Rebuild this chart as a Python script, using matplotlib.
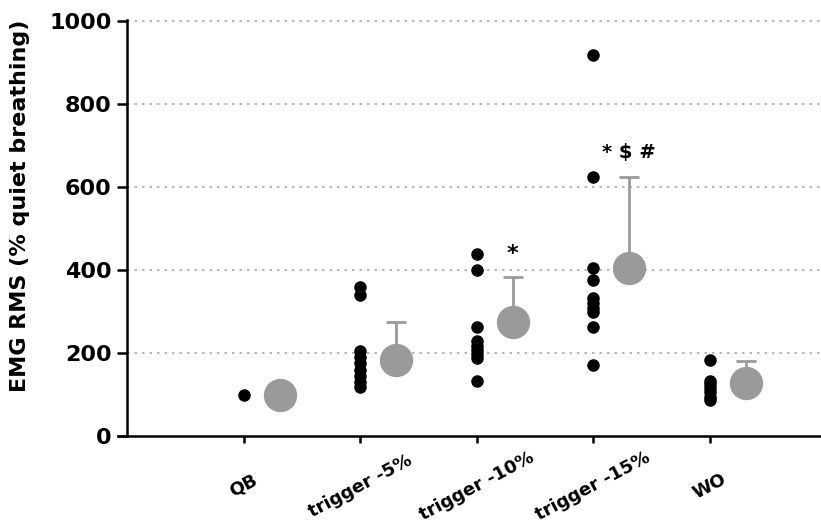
import numpy as np
import matplotlib
matplotlib.use('Agg')
import matplotlib.pyplot as plt

plt.rcParams['font.family'] = ['DejaVu Sans']
plt.rcParams['font.weight'] = 'bold'

# data
groups = ['QB', 'trigger -5%', 'trigger -10%', 'trigger -15%', 'WO']
individual = [
    [100],
    [360, 340, 205, 190, 175, 160, 145, 130, 118],
    [440, 400, 262, 230, 218, 208, 198, 188, 133],
    [918, 625, 406, 377, 332, 320, 308, 298, 262, 171],
    [183, 133, 125, 115, 105, 95, 88],
]
means = [100, 183, 276, 406, 127]
sd_top = [100, 274, 383, 625, 180]
stars = ['', '', '*', '* $ #', '']
star_y = [0, 0, 440, 683, 0]

unit = 116.5  # pixels per category step
x0 = -0.08
fig = plt.figure(figsize=(8.21, 5.30), dpi=100)
ax = fig.add_axes([(127 + x0 * unit) / 821, 94 / 530, (6 - x0) * unit / 821, 416 / 530])

xpos = np.arange(1, len(groups) + 1)
off = 0.31

for i, x in enumerate(xpos):
    vals = individual[i]
    ax.plot([x] * len(vals), vals, 'o', color='black', ms=8, zorder=3, clip_on=False)
    if sd_top[i] > means[i]:
        ax.errorbar(x + off, means[i], yerr=[[0], [sd_top[i] - means[i]]],
                    fmt='none', ecolor='#9a9a9a', elinewidth=2, capsize=7.5,
                    capthick=2, zorder=2)
    ax.plot(x + off, means[i], 'o', color='#9a9a9a', ms=23, zorder=4)
    if stars[i]:
        ax.text(x + off, star_y[i], stars[i], ha='center', va='center',
                fontsize=16 if stars[i] == '*' else 14, fontweight='bold')

ax.set_xlim(x0, 6)
ax.set_ylim(0, 1003)
ax.set_yticks([0, 200, 400, 600, 800, 1000])
ax.set_xticks(xpos)
ax.set_xticklabels(groups, rotation=28, ha='center', va='center', fontsize=13,
                   fontweight='bold')

for y in [200, 400, 600, 800, 1000]:
    ax.plot([0, 6], [y, y], color='#aaaaaa', lw=1.2, ls=(0, (1.5, 3)), zorder=0,
            clip_on=False)

ax.spines['top'].set_visible(False)
ax.spines['right'].set_visible(False)
ax.spines['left'].set_position(('data', 0))
ax.spines['left'].set_linewidth(1.8)
ax.spines['bottom'].set_linewidth(1.8)
ax.tick_params(axis='y', length=7, width=1.8, labelsize=16, pad=4)
ax.tick_params(axis='x', length=5, width=1.8, pad=31)
for lab in ax.get_yticklabels():
    lab.set_fontweight('bold')

ax.set_ylabel('EMG RMS (% quiet breathing)', fontsize=16, fontweight='bold')
ax.yaxis.set_label_coords(-0.124, 0.553)

fig.savefig('out.png', dpi=100)
